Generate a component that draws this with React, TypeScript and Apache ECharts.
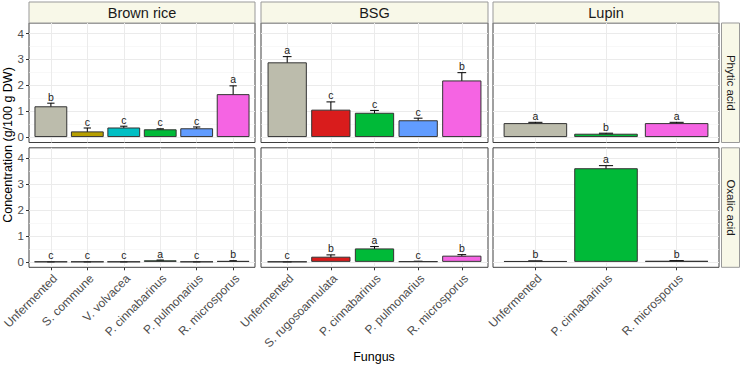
import React, { useEffect, useRef } from "react";
import * as echarts from "echarts";

// ---------- data ----------
const facetNames = ["Brown rice", "BSG", "Lupin"];
const acidNames = ["Phytic acid", "Oxalic acid"];

const brownCats = ["Unfermented", "S. commune", "V. volvacea", "P. cinnabarinus", "P. pulmonarius", "R. microsporus"];
const bsgCats = ["Unfermented", "S. rugosoannulata", "P. cinnabarinus", "P. pulmonarius", "R. microsporus"];
const lupinCats = ["Unfermented", "P. cinnabarinus", "R. microsporus"];

const brownPhytic = [1.19, 0.22, 0.37, 0.3, 0.34, 1.66];
const brownPhyticSd = [0.12, 0.13, 0.05, 0.02, 0.05, 0.32];
const brownPhyticLetters = ["b", "c", "c", "c", "c", "a"];

const bsgPhytic = [2.89, 1.06, 0.94, 0.65, 2.19];
const bsgPhyticSd = [0.22, 0.3, 0.09, 0.08, 0.3];
const bsgPhyticLetters = ["a", "c", "c", "c", "b"];

const lupinPhytic = [0.54, 0.13, 0.54];
const lupinPhyticSd = [0.03, 0.02, 0.03];
const lupinPhyticLetters = ["a", "b", "a"];

const brownOxalic = [0.005, 0.005, 0.005, 0.06, 0.005, 0.035];
const brownOxalicSd = [0.002, 0.002, 0.002, 0.01, 0.002, 0.005];
const brownOxalicLetters = ["c", "c", "c", "a", "c", "b"];

const bsgOxalic = [0.005, 0.2, 0.52, 0.02, 0.24];
const bsgOxalicSd = [0.002, 0.07, 0.07, 0.005, 0.04];
const bsgOxalicLetters = ["c", "b", "a", "c", "b"];

const lupinOxalic = [0.03, 3.62, 0.04];
const lupinOxalicSd = [0.005, 0.1, 0.005];
const lupinOxalicLetters = ["b", "a", "b"];

const yTicks = [0, 1, 2, 3, 4];

const fungusColors: Record<string, string> = {
  Unfermented: "#BCBCAC",
  "S. commune": "#B79F00",
  "V. volvacea": "#00BFC4",
  "P. cinnabarinus": "#00BA38",
  "P. pulmonarius": "#619CFF",
  "R. microsporus": "#F564E3",
  "S. rugosoannulata": "#D91C1C",
};

// ---------- layout ----------
const FONT = "'Liberation Sans', Arial, Helvetica, sans-serif";
const colX = [29, 261, 493];
const colW = [226, 227, 226];
const rowY = [23, 147.8];
const rowH = 119.5;
const Y_MIN = -0.21;
const Y_MAX = 4.41;

export default function App() {
  const ref = useRef<HTMLDivElement>(null);
  useEffect(() => {
    document.body.style.margin = "0";
    const chart = echarts.init(ref.current!, null, { renderer: "svg" });

    const panels = [
      [
        { cats: brownCats, mean: brownPhytic, sd: brownPhyticSd, letters: brownPhyticLetters },
        { cats: bsgCats, mean: bsgPhytic, sd: bsgPhyticSd, letters: bsgPhyticLetters },
        { cats: lupinCats, mean: lupinPhytic, sd: lupinPhyticSd, letters: lupinPhyticLetters },
      ],
      [
        { cats: brownCats, mean: brownOxalic, sd: brownOxalicSd, letters: brownOxalicLetters },
        { cats: bsgCats, mean: bsgOxalic, sd: bsgOxalicSd, letters: bsgOxalicLetters },
        { cats: lupinCats, mean: lupinOxalic, sd: lupinOxalicSd, letters: lupinOxalicLetters },
      ],
    ];

    const grids: any[] = [];
    const xAxes: any[] = [];
    const yAxes: any[] = [];
    const series: any[] = [];

    panels.forEach((row, r) => {
      row.forEach((p, c) => {
        const n = p.cats.length;
        const inset = (colW[c] * 0.1) / (n + 0.2);
        const gOuter = grids.length;
        grids.push({
          left: colX[c],
          top: rowY[r],
          width: colW[c],
          height: rowH,
          show: true,
          borderColor: "#404040",
          borderWidth: 1,
          backgroundColor: "transparent",
          outerBoundsMode: "none",
          containLabel: false,
        });
        const gInner = grids.length;
        grids.push({
          left: colX[c] + inset,
          top: rowY[r],
          width: colW[c] - 2 * inset,
          height: rowH,
          show: false,
          outerBoundsMode: "none",
          containLabel: false,
        });
        xAxes.push({ type: "value", gridIndex: gOuter, show: false, min: 0, max: 1 });
        yAxes.push({
          type: "value",
          gridIndex: gOuter,
          min: Y_MIN,
          max: Y_MAX,
          splitNumber: 5,
          axisLine: { show: false },
          axisTick: {
            show: c === 0,
            length: 3,
            lineStyle: { color: "#333333", width: 1 },
            customValues: yTicks,
          },
          axisLabel: {
            show: c === 0,
            customValues: yTicks,
            color: "#4D4D4D",
            fontSize: 11.5,
            fontFamily: FONT,
            margin: 5,
          },
          splitLine: { show: true, lineStyle: { color: "#EBEBEB", width: 1 } },
          minorTick: { show: false, splitNumber: 2 },
          minorSplitLine: { show: true, lineStyle: { color: "#F4F4F4", width: 0.6 } },
        });
        const xInner = xAxes.length;
        xAxes.push({
          type: "category",
          gridIndex: gInner,
          data: p.cats,
          axisLine: { show: false, onZero: false },
          axisTick: {
            show: r === 1,
            length: 3,
            alignWithLabel: true,
            interval: 0,
            lineStyle: { color: "#333333", width: 1 },
          },
          axisLabel: {
            show: r === 1,
            interval: 0,
            rotate: 45,
            margin: 5,
            align: "right",
            verticalAlign: "top",
            color: "#4D4D4D",
            fontSize: 12,
            fontFamily: FONT,
            hideOverlap: false,
          },
          splitLine: {
            show: true,
            interval: 0,
            alignWithLabel: true,
            lineStyle: { color: "#EBEBEB", width: 1 },
          },
        });
        const yInner = yAxes.length;
        yAxes.push({ type: "value", gridIndex: gInner, min: Y_MIN, max: Y_MAX, show: false });

        series.push({
          type: "bar",
          xAxisIndex: xInner,
          yAxisIndex: yInner,
          barWidth: "90%",
          data: p.mean.map((v, i) => ({
            value: v,
            itemStyle: { color: fungusColors[p.cats[i]] },
          })),
          itemStyle: { borderColor: "#333333", borderWidth: 1 },
          emphasis: { disabled: true },
          silent: true,
        });
        const letters = p.letters;
        series.push({
          type: "custom",
          xAxisIndex: xInner,
          yAxisIndex: yInner,
          clip: false,
          silent: true,
          data: p.mean.map((v, i) => [i, v, p.sd[i]]),
          renderItem: (params: any, api: any) => {
            const i = api.value(0);
            const v = api.value(1);
            const sd = api.value(2);
            const top = api.coord([i, v + sd]);
            const bot = api.coord([i, v - sd]);
            const lab = api.coord([i, v + sd + 0.25]);
            const half = api.size([1, 0])[0] * 0.1;
            const st = { stroke: "#000000", lineWidth: 1 };
            return {
              type: "group",
              children: [
                { type: "line", shape: { x1: top[0], y1: top[1], x2: bot[0], y2: bot[1] }, style: st },
                { type: "line", shape: { x1: top[0] - half, y1: top[1], x2: top[0] + half, y2: top[1] }, style: st },
                { type: "line", shape: { x1: bot[0] - half, y1: bot[1], x2: bot[0] + half, y2: bot[1] }, style: st },
                {
                  type: "text",
                  x: lab[0],
                  y: lab[1],
                  style: {
                    text: letters[params.dataIndex],
                    fill: "#1A1A1A",
                    fontSize: 10.5,
                    fontFamily: FONT,
                    align: "center",
                    verticalAlign: "middle",
                  },
                },
              ],
            };
          },
        });
      });
    });

    const graphics: any[] = [];
    facetNames.forEach((name, c) => {
      graphics.push({
        type: "rect",
        shape: { x: colX[c], y: 2, width: colW[c], height: 21 },
        style: { fill: "#F8F8E8", stroke: "#999999", lineWidth: 1 },
        silent: true,
      });
      graphics.push({
        type: "text",
        x: colX[c] + colW[c] / 2,
        y: 12.5,
        style: { text: name, fill: "#1A1A1A", fontSize: 14.5, fontFamily: FONT, align: "center", verticalAlign: "middle" },
        silent: true,
      });
    });
    acidNames.forEach((name, r) => {
      graphics.push({
        type: "rect",
        shape: { x: 721.5, y: rowY[r], width: 18, height: rowH },
        style: { fill: "#F8F8E8", stroke: "#999999", lineWidth: 1 },
        silent: true,
      });
      graphics.push({
        type: "text",
        x: 730.5,
        y: rowY[r] + rowH / 2,
        rotation: -Math.PI / 2,
        style: { text: name, fill: "#1A1A1A", fontSize: 11.5, fontFamily: FONT, align: "center", verticalAlign: "middle" },
        silent: true,
      });
    });
    graphics.push({
      type: "text",
      x: 8,
      y: 145,
      rotation: Math.PI / 2,
      style: {
        text: "Concentration (g/100 g DW)",
        fill: "#000000",
        fontSize: 12.5,
        fontFamily: FONT,
        align: "center",
        verticalAlign: "middle",
      },
      silent: true,
    });
    graphics.push({
      type: "text",
      x: 374,
      y: 357,
      style: { text: "Fungus", fill: "#000000", fontSize: 12.5, fontFamily: FONT, align: "center", verticalAlign: "middle" },
      silent: true,
    });

    chart.setOption({
      animation: false,
      backgroundColor: "#FFFFFF",
      textStyle: { fontFamily: FONT },
      grid: grids,
      xAxis: xAxes,
      yAxis: yAxes,
      series,
      graphic: graphics,
    });
    return () => chart.dispose();
  }, []);
  return <div ref={ref} style={{ width: 740, height: 366 }} />;
}
